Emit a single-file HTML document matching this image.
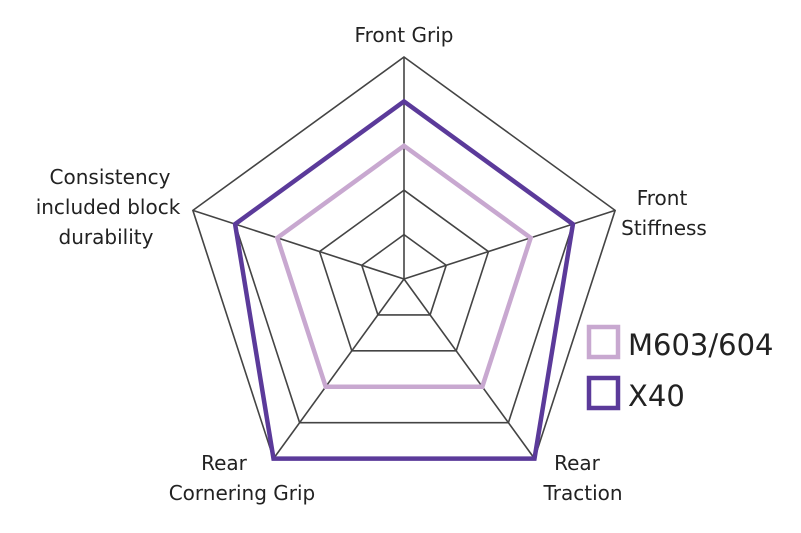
<!DOCTYPE html><html><head><style>body{margin:0;background:#fff}svg{display:block}text{font-family:"DejaVu Sans","Liberation Sans",sans-serif;fill:#222}</style></head><body>
<svg width="801" height="533" viewBox="0 0 801 533">
<g id="g" fill="none" stroke="#444" stroke-width="1.6"></g>
<g font-size="20" text-anchor="middle">
<text x="404" y="42">Front Grip</text>
<text x="662" y="205">Front</text><text x="664" y="235">Stiffness</text>
<text x="110" y="184">Consistency</text><text x="108" y="214">included block</text><text x="106" y="244">durability</text>
<text x="224" y="470">Rear</text><text x="242" y="500">Cornering Grip</text>
<text x="577" y="470">Rear</text><text x="583" y="500">Traction</text>
</g>
<rect x="589" y="327" width="29" height="30" fill="none" stroke="#c8a8d0" stroke-width="4.5"/>
<rect x="589" y="378" width="29" height="30" fill="none" stroke="#5b3a9a" stroke-width="4.5"/>
<g font-size="29" font-family="Liberation Sans"><text x="628" y="355">M603/604</text><text x="628" y="406">X40</text></g>
<script>
var cx=404,cy=279,R=222,g=document.getElementById('g'),ns='http://www.w3.org/2000/svg';
function pt(i,r){var a=(-90+72*i)*Math.PI/180;return [cx+r*Math.cos(a),cy+r*Math.sin(a)];}
function poly(rs,st,w){var p=document.createElementNS(ns,'polygon');p.setAttribute('points',rs.map(function(r,i){return pt(i,r).join(',')}).join(' '));p.setAttribute('stroke',st);p.setAttribute('stroke-width',w);p.setAttribute('fill','none');p.setAttribute('stroke-linejoin','miter');g.appendChild(p);}
for(var k=1;k<=5;k++)poly([1,1,1,1,1].map(function(){return R*k/5}),'#444',1.6);
for(var i=0;i<5;i++){var l=document.createElementNS(ns,'line'),q=pt(i,R);l.setAttribute('x1',cx);l.setAttribute('y1',cy);l.setAttribute('x2',q[0]);l.setAttribute('y2',q[1]);g.appendChild(l);}
var u=R/5;
poly([3*u,3*u,3*u,3*u,3*u],'#c8a8d0',4.5);
poly([4*u,4*u,5*u,5*u,4*u],'#5b3a9a',4.5);
</script>
</svg></body></html>
